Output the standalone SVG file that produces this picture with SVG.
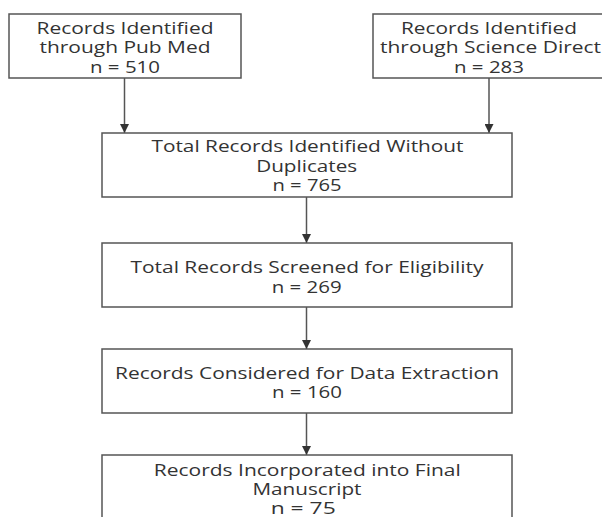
<svg xmlns="http://www.w3.org/2000/svg" width="602" height="517" viewBox="0 0 602 517">
<style>
.box{fill:#fff;stroke:#555;stroke-width:1.5}
.t{font-family:"Open Sans","Noto Sans","DejaVu Sans",sans-serif;font-size:16.3px;fill:#333;text-anchor:middle}
.c{stroke:#555;stroke-width:1.5;fill:none}
</style>
<defs>
<marker id="ah" markerWidth="10" markerHeight="9" refX="9" refY="4.5" orient="auto" markerUnits="userSpaceOnUse">
<path d="M0,0 L9,4.5 L0,9 Z" fill="#333"/>
</marker>
</defs>
<rect width="602" height="517" fill="#fff"/>
<g id="connectors">
<line class="c" x1="124.5" y1="78" x2="124.5" y2="133" marker-end="url(#ah)"/>
<line class="c" x1="489" y1="78" x2="489" y2="133" marker-end="url(#ah)"/>
<line class="c" x1="306.5" y1="197" x2="306.5" y2="243" marker-end="url(#ah)"/>
<line class="c" x1="306.5" y1="307" x2="306.5" y2="349" marker-end="url(#ah)"/>
<line class="c" x1="306.5" y1="413" x2="306.5" y2="455" marker-end="url(#ah)"/>
</g>
<g id="pubmed">
<rect class="box" x="9" y="14" width="232" height="64"/>
<text class="t" x="125" y="33.5" textLength="177" lengthAdjust="spacingAndGlyphs">Records Identified</text>
<text class="t" x="125" y="53" textLength="171" lengthAdjust="spacingAndGlyphs">through Pub Med</text>
<text class="t" x="125" y="72.5" textLength="70" lengthAdjust="spacingAndGlyphs">n = 510</text>
</g>
<g id="sciencedirect">
<rect class="box" x="373" y="14" width="234" height="64"/>
<text class="t" x="489" y="33.5" textLength="176" lengthAdjust="spacingAndGlyphs">Records Identified</text>
<text class="t" x="490.5" y="53" textLength="221" lengthAdjust="spacingAndGlyphs">through Science Direct</text>
<text class="t" x="489" y="72.5" textLength="70" lengthAdjust="spacingAndGlyphs">n = 283</text>
</g>
<g id="total">
<rect class="box" x="102" y="133" width="410" height="64"/>
<text class="t" x="307.5" y="152" textLength="312" lengthAdjust="spacingAndGlyphs">Total Records Identified Without</text>
<text class="t" x="306.7" y="171.5" textLength="101" lengthAdjust="spacingAndGlyphs">Duplicates</text>
<text class="t" x="307" y="191" textLength="69" lengthAdjust="spacingAndGlyphs">n = 765</text>
</g>
<g id="screened">
<rect class="box" x="102" y="243" width="410" height="64"/>
<text class="t" x="307" y="272.5" textLength="353" lengthAdjust="spacingAndGlyphs">Total Records Screened for Eligibility</text>
<text class="t" x="306.7" y="292.5" textLength="70" lengthAdjust="spacingAndGlyphs">n = 269</text>
</g>
<g id="extraction">
<rect class="box" x="102" y="349" width="410" height="64"/>
<text class="t" x="307" y="378.5" textLength="384" lengthAdjust="spacingAndGlyphs">Records Considered for Data Extraction</text>
<text class="t" x="307" y="398" textLength="70" lengthAdjust="spacingAndGlyphs">n = 160</text>
</g>
<g id="final">
<rect class="box" x="102" y="455" width="410" height="64"/>
<text class="t" x="307.3" y="475.5" textLength="307" lengthAdjust="spacingAndGlyphs">Records Incorporated into Final</text>
<text class="t" x="307" y="494.5" textLength="109" lengthAdjust="spacingAndGlyphs">Manuscript</text>
<text class="t" x="303.2" y="513.5" textLength="65" lengthAdjust="spacingAndGlyphs">n = 75</text>
</g>
</svg>
